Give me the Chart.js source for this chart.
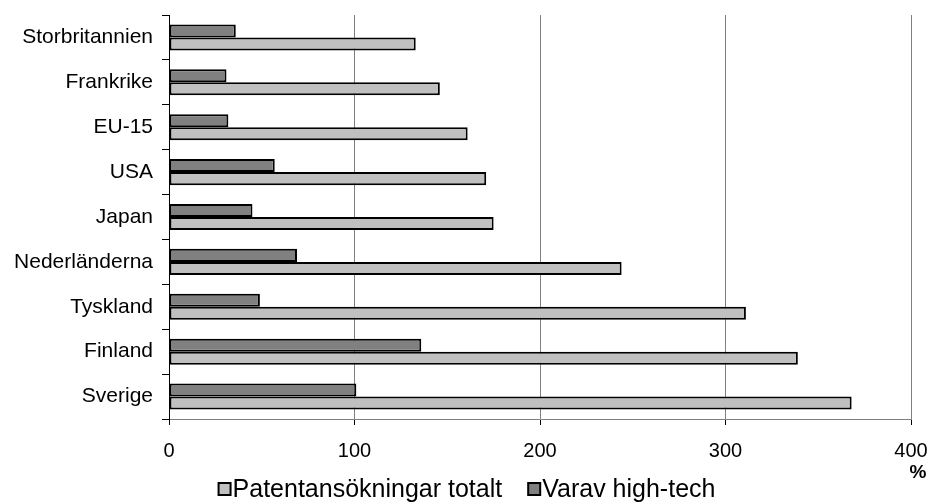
<!DOCTYPE html>
<html>
<head>
<meta charset="utf-8">
<script src="https://cdn.jsdelivr.net/npm/chart.js@4.4.1/dist/chart.umd.min.js"></script>
<style>
  html, body { margin: 0; padding: 0; background: #fff; }
  #wrap { width: 932px; height: 503px; position: relative; }
</style>
</head>
<body>
<div id="wrap"><canvas id="chart"></canvas></div>
<script>
const categories = ['Storbritannien', 'Frankrike', 'EU-15', 'USA', 'Japan', 'Nederländerna', 'Tyskland', 'Finland', 'Sverige'];
const totalt = [133, 146, 161, 171, 175, 244, 311, 339, 368];
const highTech = [36, 31, 32, 57, 45, 69, 49, 136, 101];
const xTicks = [0, 100, 200, 300, 400];
const seriesNames = ['Patentansökningar totalt', 'Varav high-tech'];
const unitLabel = '%';

const FONT = '"Liberation Sans", Arial, sans-serif';

// legend + unit label drawn by hand so the box/text gap matches the original
const extras = {
  id: 'extras',
  afterDraw(chart) {
    const ctx = chart.ctx;
    ctx.save();
    ctx.fillStyle = '#000';
    ctx.font = 'bold 19px ' + FONT;
    ctx.textAlign = 'center';
    ctx.textBaseline = 'middle';
    ctx.fillText(unitLabel, 918, 473);

    const items = [
      { text: seriesNames[0], color: '#c0c0c0' },
      { text: seriesNames[1], color: '#808080' }
    ];
    ctx.font = '25px ' + FONT;
    const box = 12, gap = 2, between = 26;
    let total = 0;
    items.forEach((it, i) => {
      it.w = ctx.measureText(it.text).width;
      total += box + gap + it.w + (i ? between : 0);
    });
    let x = 467 - total / 2;
    const y = 489;
    ctx.textAlign = 'left';
    items.forEach((it, i) => {
      if (i) x += between;
      ctx.fillStyle = it.color;
      ctx.fillRect(x, y - box / 2, box, box);
      ctx.lineWidth = 2;
      ctx.strokeStyle = '#000';
      ctx.strokeRect(x, y - box / 2, box, box);
      ctx.fillStyle = '#000';
      ctx.fillText(it.text, x + box + gap, y + 1);
      x += box + gap + it.w;
    });
    ctx.restore();
  }
};

new Chart(document.getElementById('chart').getContext('2d'), {
  type: 'bar',
  data: {
    labels: categories,
    datasets: [
      {
        label: seriesNames[1],
        data: highTech,
        backgroundColor: '#808080',
        borderColor: '#000',
        borderWidth: 2,
        borderSkipped: false
      },
      {
        label: seriesNames[0],
        data: totalt,
        backgroundColor: '#c0c0c0',
        borderColor: '#000',
        borderWidth: 2,
        borderSkipped: false
      }
    ]
  },
  options: {
    indexAxis: 'y',
    responsive: true,
    maintainAspectRatio: false,
    animation: false,
    categoryPercentage: 0.58,
    barPercentage: 1,
    layout: { padding: { top: 15, right: 21, bottom: 43, left: 0 } },
    plugins: {
      legend: { display: false },
      tooltip: { enabled: false }
    },
    scales: {
      x: {
        min: 0,
        max: 400,
        afterBuildTicks: scale => { scale.ticks = xTicks.map(v => ({ value: v })); },
        afterFit: scale => {
          scale.height = 41;
          scale.paddingLeft = 0;
          scale.paddingRight = 0;
        },
        ticks: {
          color: '#000',
          font: { family: FONT, size: 20 },
          padding: 14
        },
        grid: { color: '#808080', tickLength: 6, tickColor: '#000' },
        border: { color: '#808080' }
      },
      y: {
        afterFit: scale => {
          scale.width = 169;
          scale.paddingTop = 0;
          scale.paddingBottom = 0;
        },
        ticks: {
          color: '#000',
          font: { family: FONT, size: 21 },
          padding: 9
        },
        grid: { drawOnChartArea: false, color: '#000', tickLength: 7 },
        border: { color: '#000' }
      }
    }
  },
  plugins: [extras]
});
</script>
</body>
</html>
